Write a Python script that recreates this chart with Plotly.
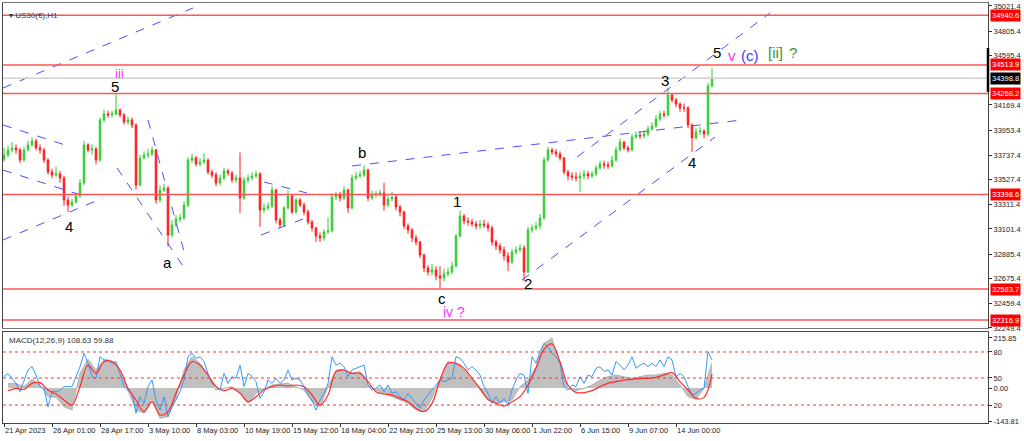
import plotly.graph_objects as go

# ---- price data (H1 candles, one entry per candle) ----
first_open = 33700
closes = [33738, 33782, 33799, 33782, 33695, 33782, 33825, 33859, 33799, 33782,
          33695, 33592, 33566, 33575, 33540, 33351, 33308, 33334, 33385, 33497,
          33825, 33782, 33790, 33695, 34040, 34092, 34083, 34092, 34126, 34083,
          34023, 34040, 33997, 33480, 33713, 33738, 33747, 33782, 33351, 33437,
          33454, 33050, 33136, 33187, 33196, 33308, 33695, 33713, 33661, 33678,
          33695, 33592, 33566, 33497, 33540, 33601, 33583, 33523, 33540, 33368,
          33523, 33540, 33558, 33575, 33265, 33282, 33299, 33437, 33179, 33136,
          33282, 33385, 33248, 33351, 33308, 33248, 33162, 33110, 33041, 33024,
          33076, 33084, 33377, 33394, 33368, 33437, 33282, 33540, 33558, 33566,
          33609, 33368, 33394, 33403, 33411, 33308, 33360, 33377, 33291, 33248,
          33127, 33093, 33024, 32989, 32877, 32765, 32731, 32748, 32697, 32679,
          32714, 32731, 32783, 33041, 33213, 33170, 33162, 33144, 33127, 33144,
          33136, 33110, 32989, 32955, 32921, 32869, 32817, 32903, 32921, 32938,
          32731, 33093, 33110, 33127, 33196, 33695, 33782, 33764, 33747, 33713,
          33592, 33558, 33549, 33540, 33558, 33575, 33558, 33575, 33627, 33661,
          33652, 33644, 33695, 33782, 33850, 33799, 33782, 33893, 33911, 33902,
          33919, 33962, 33988, 34048, 34092, 34083, 34255, 34212, 34178, 34143,
          34143, 33997, 33885, 33937, 33945, 33919, 34333, 34399]
highs = [33800, 33820, 33850, 33830, 33800, 33810, 33860, 33890, 33880, 33830,
         33800, 33710, 33620, 33640, 33600, 33560, 33380, 33360, 33410, 33530,
         33860, 33840, 33830, 33810, 34060, 34130, 34120, 34120, 34262, 34140,
         34100, 34070, 34060, 34010, 33740, 33770, 33790, 33810, 33790, 33480,
         33490, 33470, 33180, 33220, 33230, 33340, 33720, 33750, 33730, 33710,
         33750, 33710, 33610, 33590, 33570, 33630, 33620, 33600, 33570, 33760,
         33550, 33570, 33590, 33600, 33590, 33320, 33330, 33470, 33450, 33200,
         33300, 33440, 33400, 33370, 33370, 33330, 33270, 33180, 33120, 33070,
         33100, 33200, 33410, 33420, 33420, 33470, 33450, 33570, 33590, 33600,
         33650, 33620, 33430, 33430, 33440, 33500, 33390, 33420, 33400, 33310,
         33260, 33150, 33110, 33050, 33000, 32890, 32790, 32800, 32780, 32780,
         32760, 32770, 32820, 33060, 33260, 33230, 33200, 33190, 33170, 33180,
         33180, 33160, 33130, 33010, 32980, 32950, 32900, 32930, 32950, 32970,
         32960, 33120, 33140, 33160, 33230, 33720, 33810, 33800, 33790, 33770,
         33720, 33610, 33590, 33590, 33590, 33610, 33600, 33600, 33650, 33690,
         33690, 33680, 33730, 33810, 33880, 33860, 33820, 33920, 33940, 33940,
         33950, 33990, 34020, 34080, 34120, 34120, 34315, 34270, 34230, 34190,
         34180, 34160, 34010, 33970, 33980, 33960, 34360, 34485]
lows = [33680, 33720, 33760, 33750, 33670, 33680, 33770, 33810, 33780, 33750,
        33670, 33570, 33540, 33550, 33500, 33300, 33250, 33290, 33320, 33370,
        33480, 33760, 33740, 33660, 33680, 34020, 34060, 34060, 34080, 34060,
        34000, 34000, 33970, 33440, 33470, 33700, 33710, 33730, 33320, 33330,
        33420, 32950, 33030, 33120, 33160, 33180, 33290, 33670, 33640, 33640,
        33660, 33570, 33540, 33470, 33480, 33520, 33560, 33500, 33500, 33240,
        33350, 33500, 33520, 33540, 33120, 33240, 33260, 33280, 33150, 33110,
        33120, 33270, 33230, 33230, 33290, 33220, 33140, 33080, 32990, 32990,
        33000, 33060, 33070, 33350, 33340, 33350, 33240, 33270, 33520, 33540,
        33550, 33340, 33350, 33370, 33380, 33260, 33290, 33340, 33260, 33210,
        33100, 33060, 32990, 32960, 32850, 32730, 32700, 32700, 32660, 32595,
        32650, 32690, 32710, 32770, 33030, 33140, 33130, 33120, 33100, 33100,
        33110, 33080, 32960, 32920, 32890, 32830, 32740, 32800, 32880, 32900,
        32650, 32720, 33070, 33090, 33100, 33180, 33680, 33740, 33720, 33690,
        33570, 33520, 33520, 33510, 33420, 33530, 33530, 33540, 33560, 33610,
        33620, 33620, 33630, 33680, 33770, 33780, 33760, 33770, 33880, 33880,
        33880, 33900, 33950, 33970, 34030, 34060, 34070, 34190, 34150, 34110,
        34110, 33970, 33765, 33870, 33910, 33880, 33900, 34320]
opens = [first_open] + closes[:-1]
bars = list(range(len(closes)))

# ---- MACD panel ----
macd_blue = [49, 63, 42, 20, -16, 35, 78, 92, 56, 6, -1, -81, -16, -16, -9, 6, 6, 6,
             49, 92, 150, 107, 49, 42, 135, 121, 121, 107, 114, 63, 6, -9, -23, -109,
             -37, -66, 6, 35, -52, -95, -37, -124, -81, -52, -16, 35, 135, 150, 128,
             135, 114, 63, 20, 6, -9, 63, 20, 49, 42, 99, 6, 63, 49, 27, -45, -16,
             35, 20, 42, 20, 35, 78, 35, 42, 35, 6, -30, -52, -95, -52, -23, 20, 135,
             99, 107, 92, 49, 78, 85, 92, 99, 13, -9, -1, 13, -16, 13, -23, -16, -37,
             -52, -23, -45, -66, -88, -52, -30, -9, 13, 35, 27, 35, 42, 135, 128, 107,
             78, 92, 78, 56, 6, -23, -66, -37, -66, -45, -73, -9, 35, 63, 56, -23, 135,
             107, 157, 193, 178, 150, 135, 107, 6, -9, 13, 6, 49, 20, 56, 49, 85, 92,
             71, 78, 56, 114, 99, 78, 99, 135, 85, 99, 107, 92, 107, 92, 121, 92, 135,
             121, 49, 63, 49, 6, -30, -23, -9, -1, 157, 121]
macd_main = [20.1, 20.1, 5.8, 37.4, 13.0, -37.4, -40.3, -80.6, -95.0, 63.3,
             123.8, 77.7, 120.9, 113.7, 70.5, -15.8, -95.0, -109.4, -44.6, -131.0,
             -123.8, -44.6, 77.7, 135.3, 106.5, 48.9, -8.6, -1.4, 5.8, -15.8,
             -66.2, -23.0, -5.8, 13.0, 17.3, 20.1, 5.8, -8.6, -59.0, -80.6,
             5.8, 77.7, 77.7, 63.3, 70.5, 13.0, -8.6, -23.0, -34.5, -51.8,
             -66.2, -95.0, -102.2, -44.6, 41.7, 113.7, 106.5, 77.7, 34.5, -8.6,
             -51.8, -66.2, -59.0, -51.8, 5.8, 34.5, 92.1, 192.8, 215.8, 92.1,
             -1.4, -11.5, -1.4, 13.0, 34.5, 48.9, 56.1, 48.9, 41.7, 48.9,
             56.1, 56.1, 63.3, 56.1, 13.0, -37.4, -48.9, -1.4, 108.6]
macd_signal = [-11.5, -1.4, -5.8, 20.1, 23.0, -8.6, -25.9, -51.8, -73.4, 5.8,
               99.3, 63.3, 113.7, 113.7, 77.7, -1.4, -51.8, -102.2, -59.0, -116.6,
               -102.2, -23.0, 56.1, 113.7, 99.3, 56.1, 5.8, -11.5, -1.4, -23.0,
               -59.0, -37.4, -8.6, 5.8, 13.0, 8.6, 13.0, 5.8, -30.2, -73.4,
               -30.2, 70.5, 77.7, 63.3, 63.3, 27.3, -15.8, -25.9, -30.2, -44.6,
               -59.0, -87.8, -102.2, -66.2, 34.5, 106.5, 106.5, 84.9, 41.7, -1.4,
               -48.9, -66.2, -77.7, -59.0, -37.4, 13.0, 84.9, 166.9, 190.0, 113.7,
               13.0, -18.7, -20.1, -11.5, 5.8, 20.1, 27.3, 34.5, 37.4, 41.7,
               41.7, 46.0, 56.1, 66.2, 27.3, -8.6, -44.6, -40.3, 59.9]
macd_bars = bars[1::2]
macd_levels = [155.4, 43.2, -73.4]
macd_tick_vals = [215.85, 155.4, 43.2, 0, -73.4, -143.81]
macd_tick_text = ["215.85", "80", "50", "0.00", "20", "-143.81"]

# ---- axes labels ----
date_labels = ["21 Apr 2023", "26 Apr 01:00", "28 Apr 17:00", "3 May 10:00",
               "8 May 03:00", "10 May 19:00", "15 May 12:00", "18 May 04:00",
               "22 May 21:00", "25 May 13:00", "30 May 06:00", "1 Jun 22:00",
               "6 Jun 15:00", "9 Jun 07:00", "14 Jun 00:00"]
date_ticks = bars[::12]
price_ticks = [35021.4, 34805.4, 34595.4, 34169.4, 33953.4, 33737.4, 33527.4,
               33311.4, 33101.4, 32885.4, 32675.4, 32459.4, 32249.4]
red_levels = [34940.6, 34513.9, 34268.2, 33398.6, 32583.7, 32316.9]
last_price = 34398.8

# ---- wave count trend lines (bar, price) -> (bar, price) ----
trend_lines = [
    (-0.25, 34315, 47.25, 35004),
    (143.25, 33721, 191.5, 34961),
    (129.5, 32662, 177.75, 33893),
    (87, 33644, 184.5, 34040),
    (-0.25, 33997, 15.25, 33825),
    (-0.25, 33609, 20.75, 33377),
    (-0.25, 33007, 24.75, 33368),
    (28.25, 33627, 45.75, 32731),
    (36, 34040, 45.25, 32877),
    (65, 33506, 75.75, 33411),
    (64.25, 33050, 74.75, 33187),
]

# ---- wave labels: text, bar, price, colour, size ----
wave_labels = [
    ("iii", 28.75, 34440, "#ff33ff", 13),
    ("5", 27.75, 34325, "black", 15),
    ("4", 16.25, 33119, "black", 15),
    ("a", 40.75, 32817, "black", 15),
    ("b", 89.5, 33756, "black", 15),
    ("1", 113.25, 33342, "black", 15),
    ("c", 109.5, 32507, "black", 15),
    ("iv ?", 112.5, 32387, "#ff33ff", 14),
    ("2", 131, 32628, "black", 15),
    ("3", 165.25, 34376, "black", 15),
    ("4", 172, 33670, "black", 15),
    ("5", 178.25, 34617, "black", 15),
    ("v", 182, 34599, "#ff33ff", 15),
    ("(c)", 186.5, 34599, "#4040ff", 15),
    ("[ii]", 192.75, 34625, "#339933", 15),
    ("?", 197.25, 34625, "#339933", 15),
]

FONT = "Liberation Sans, Arial, sans-serif"

fig = go.Figure()

fig.add_trace(go.Candlestick(
    x=bars, open=opens, high=highs, low=lows, close=closes,
    increasing=dict(line=dict(color="#33cc33", width=1), fillcolor="#33cc33"),
    decreasing=dict(line=dict(color="#ff1a1a", width=1), fillcolor="#ff1a1a"),
    whiskerwidth=0, showlegend=False, xaxis="x", yaxis="y",
))

for x0, y0, x1, y1 in trend_lines:
    fig.add_trace(go.Scatter(
        x=[x0, x1], y=[y0, y1], mode="lines",
        line=dict(color="#4d4dff", width=1, dash="dash"),
        showlegend=False, hoverinfo="skip", xaxis="x", yaxis="y",
    ))

# MACD histogram (grey area), blue line and red signal
fig.add_trace(go.Scatter(
    x=macd_bars, y=macd_main, mode="lines", fill="tozeroy",
    line=dict(color="#b4b4b4", width=1), fillcolor="#c0c0c0",
    showlegend=False, xaxis="x2", yaxis="y2",
))
fig.add_trace(go.Scatter(
    x=bars, y=macd_blue, mode="lines",
    line=dict(color="#3399ff", width=1),
    showlegend=False, xaxis="x2", yaxis="y2",
))
fig.add_trace(go.Scatter(
    x=macd_bars, y=macd_signal, mode="lines", line_shape="spline",
    line=dict(color="#ff2a2a", width=1.2),
    showlegend=False, xaxis="x2", yaxis="y2",
))

shapes = []
for lvl in red_levels:
    shapes.append(dict(type="line", xref="x domain", yref="y", x0=0, x1=1,
                       y0=lvl, y1=lvl, line=dict(color="#ff5555", width=1.5)))
shapes.append(dict(type="line", xref="x domain", yref="y", x0=0, x1=1,
                   y0=last_price, y1=last_price, line=dict(color="#d0d0d0", width=1.5)))
shapes.append(dict(type="line", xref="paper", yref="y", x0=1, x1=1,
                   y0=34281, y1=34660, line=dict(color="black", width=2.5)))
for lvl in macd_levels:
    shapes.append(dict(type="line", xref="x2 domain", yref="y2", x0=0, x1=1,
                       y0=lvl, y1=lvl, line=dict(color="#ff3333", width=1, dash="dot")))

annotations = []
for lvl in red_levels:
    annotations.append(dict(xref="paper", yref="y", x=1, y=lvl, xanchor="left",
                            xshift=2, text=f"{lvl:.1f}", showarrow=False,
                            font=dict(family=FONT, size=7.5, color="white"),
                            bgcolor="#ff0000", borderpad=1))
annotations.append(dict(xref="paper", yref="y", x=1, y=last_price, xanchor="left",
                        xshift=2, text=f"{last_price:.1f}", showarrow=False,
                        font=dict(family=FONT, size=7.5, color="white"),
                        bgcolor="black", borderpad=1))
for txt, bx, py, col, sz in wave_labels:
    annotations.append(dict(xref="x", yref="y", x=bx, y=py, text=txt, showarrow=False,
                            font=dict(family=FONT, size=sz, color=col)))
annotations.append(dict(xref="paper", yref="paper", x=0.004, y=0.986, xanchor="left",
                        text="▾ US30(€),H1", showarrow=False,
                        font=dict(family=FONT, size=8, color="#333")))
annotations.append(dict(xref="paper", yref="paper", x=0.004, y=0.2167, xanchor="left",
                        yanchor="top", yshift=-2,
                        text="MACD(12,26,9) 108.63 59.88", showarrow=False,
                        font=dict(family=FONT, size=8, color="#333")))

axis_font = dict(family=FONT, size=7.5, color="#222")
x_range = [-0.25, 246]

fig.update_layout(
    width=1024, height=441, autosize=False,
    margin=dict(l=3, r=36, t=3, b=18),
    paper_bgcolor="white", plot_bgcolor="white",
    boxgap=0.45,
    shapes=shapes, annotations=annotations,
    xaxis=dict(domain=[0, 1], anchor="y", range=x_range, showticklabels=False,
               showgrid=False, zeroline=False, showline=True, mirror=True,
               linecolor="#777", rangeslider=dict(visible=False), fixedrange=True),
    yaxis=dict(domain=[0.2262, 1], anchor="x", side="right", range=[32249, 35047],
               tickvals=price_ticks, ticktext=[f"{v:.1f}" for v in price_ticks],
               ticks="outside", ticklen=3, tickcolor="#333", tickfont=axis_font,
               showgrid=False, zeroline=False, showline=True, mirror=True,
               linecolor="#444", automargin=False),
    xaxis2=dict(domain=[0, 1], anchor="y2", range=x_range, matches="x",
                tickvals=date_ticks, ticktext=date_labels, tickangle=0,
                ticklabelposition="outside right", ticks="outside", ticklen=3,
                tickcolor="#333", tickfont=axis_font, showgrid=False, zeroline=False,
                showline=True, mirror=True, linecolor="#444", automargin=False),
    yaxis2=dict(domain=[0, 0.2167], anchor="x2", side="right", range=[-151, 241.7],
                tickvals=macd_tick_vals, ticktext=macd_tick_text,
                ticks="outside", ticklen=3, tickcolor="#333", tickfont=axis_font,
                showgrid=False, zeroline=False, showline=True, mirror=True,
                linecolor="#444", automargin=False),
)

# the page's default body margin would push the 1024x441 figure off-screen
fig.write_html("out.html", config={"displayModeBar": False},
               post_script="document.body.style.margin='0';")
